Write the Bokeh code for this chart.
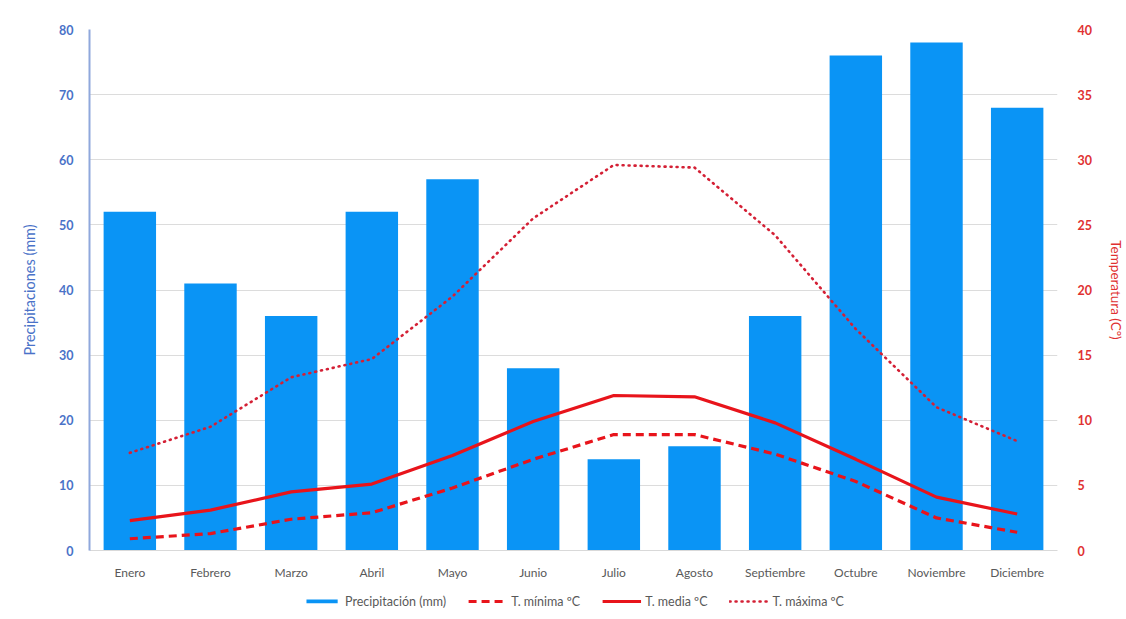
from bokeh.plotting import figure
from bokeh.layouts import column
from bokeh.models import (Range1d, LinearAxis, FactorRange, Legend, LegendItem,
                          ColumnDataSource, SingleIntervalTicker)
from bokeh.embed import file_html
from bokeh.resources import INLINE

meses = ["Enero", "Febrero", "Marzo", "Abril", "Mayo", "Junio", "Julio",
         "Agosto", "Septiembre", "Octubre", "Noviembre", "Diciembre"]
precipitacion = [52, 41, 36, 52, 57, 28, 14, 16, 36, 76, 78, 68]
t_minima = [0.9, 1.3, 2.4, 2.9, 4.8, 7.0, 8.9, 8.9, 7.4, 5.3, 2.5, 1.4]
t_media = [2.3, 3.1, 4.5, 5.1, 7.3, 9.9, 11.9, 11.8, 9.8, 7.0, 4.1, 2.8]
t_maxima = [7.5, 9.5, 13.3, 14.7, 19.5, 25.5, 29.6, 29.4, 24.2, 17.0, 11.0, 8.4]
leyenda = ["Precipitación (mm)", "T. mínima ºC", "T. media ºC", "T. máxima ºC"]

src = ColumnDataSource(dict(mes=meses, p=precipitacion, tmin=t_minima,
                            tmed=t_media, tmax=t_maxima))

FONT = "Lato"
BLUE_TXT = "#4a72c8"
RED_TXT = "#e03131"
GRAY = "#595959"
RED = "#e8141b"
BAR = "#0a94f5"
DOT = "#d42035"

p = figure(x_range=FactorRange(*meses, range_padding=0),
           y_range=Range1d(0, 80),
           width=1126, height=583,
           output_backend="svg", toolbar_location=None,
           min_border_left=89, min_border_right=59,
           min_border_top=29, min_border_bottom=33)
p.extra_y_ranges = {"temp": Range1d(0, 40)}
p.outline_line_color = None
p.background_fill_color = "white"
p.border_fill_color = "white"

p.vbar(x="mes", top="p", width=0.65, source=src, fill_color=BAR, line_color=None)
p.line(x="mes", y="tmin", source=src, y_range_name="temp",
       line_color=RED, line_width=3.2, line_dash="8 5")
p.line(x="mes", y="tmed", source=src, y_range_name="temp",
       line_color=RED, line_width=3.2)
p.line(x="mes", y="tmax", source=src, y_range_name="temp",
       line_color=DOT, line_width=2.6, line_dash="1 5", line_cap="round")

p.xgrid.grid_line_color = None
p.ygrid.grid_line_color = "#dcdcdc"
p.ygrid.grid_line_width = 1.2
p.yaxis.ticker = SingleIntervalTicker(interval=10)

ax = p.yaxis[0]
ax.axis_label = "Precipitaciones (mm)"
ax.axis_label_text_color = BLUE_TXT
ax.axis_label_text_font = FONT
ax.axis_label_text_font_style = "normal"
ax.axis_label_text_font_size = "14.5px"
ax.axis_label_standoff = 18
ax.major_label_text_color = BLUE_TXT
ax.major_label_text_font = FONT
ax.major_label_text_font_size = "12.5px"
ax.major_label_text_font_style = "bold"
ax.major_label_standoff = 10
ax.axis_line_color = "#8fa8dc"
ax.axis_line_width = 2
ax.major_tick_line_color = None
ax.minor_tick_line_color = None

rax = LinearAxis(y_range_name="temp", ticker=SingleIntervalTicker(interval=5))
rax.axis_label = "Temperatura (Cº)"
rax.axis_label_text_color = RED_TXT
rax.axis_label_text_font = FONT
rax.axis_label_text_font_style = "normal"
rax.axis_label_text_font_size = "13.5px"
rax.axis_label_standoff = 13
rax.major_label_text_color = RED_TXT
rax.major_label_text_font = FONT
rax.major_label_text_font_size = "12.5px"
rax.major_label_text_font_style = "bold"
rax.major_label_standoff = 14
rax.axis_line_color = None
rax.major_tick_line_color = None
rax.minor_tick_line_color = None
p.add_layout(rax, "right")

xa = p.xaxis[0]
xa.axis_line_color = "#d9d9d9"
xa.major_tick_line_color = None
xa.minor_tick_line_color = None
xa.major_label_text_color = GRAY
xa.major_label_text_font = FONT
xa.major_label_text_font_size = "12px"
xa.major_label_standoff = 8

# legend strip below the chart (proxy renderers hold no drawable data)
nan = float("nan")
lg = figure(width=1126, height=36, x_range=Range1d(0, 1), y_range=Range1d(0, 1),
            output_backend="svg", toolbar_location=None,
            x_axis_type=None, y_axis_type=None,
            min_border_left=0, min_border_right=0, min_border_top=0,
            min_border_bottom=0)
lg.grid.visible = False
lg.outline_line_color = None
r_bar = lg.vbar(x=[nan], top=[nan], width=0.5, fill_color=BAR, line_color=None)
r_min = lg.line(x=[nan], y=[nan], line_color=RED, line_width=3.2, line_dash="8 5")
r_med = lg.line(x=[nan], y=[nan], line_color=RED, line_width=3.2)
r_max = lg.line(x=[nan], y=[nan], line_color=DOT, line_width=2.6, line_dash="1 5",
                line_cap="round")

legend = Legend(items=[
    LegendItem(label=leyenda[0], renderers=[r_bar]),
    LegendItem(label=leyenda[1], renderers=[r_min]),
    LegendItem(label=leyenda[2], renderers=[r_med]),
    LegendItem(label=leyenda[3], renderers=[r_max]),
], orientation="horizontal", location="center")
legend.label_text_font = FONT
legend.label_text_font_size = "12.5px"
legend.label_text_color = GRAY
legend.glyph_width = 39
legend.glyph_height = 5
legend.spacing = 22
legend.label_standoff = 4
legend.label_height = 14
legend.border_line_color = None
legend.background_fill_alpha = 0
legend.margin = 0
legend.padding = 2
lg.add_layout(legend, "center")

layout = column(p, lg, spacing=0)
open("out.html", "w").write(file_html(layout, INLINE))
